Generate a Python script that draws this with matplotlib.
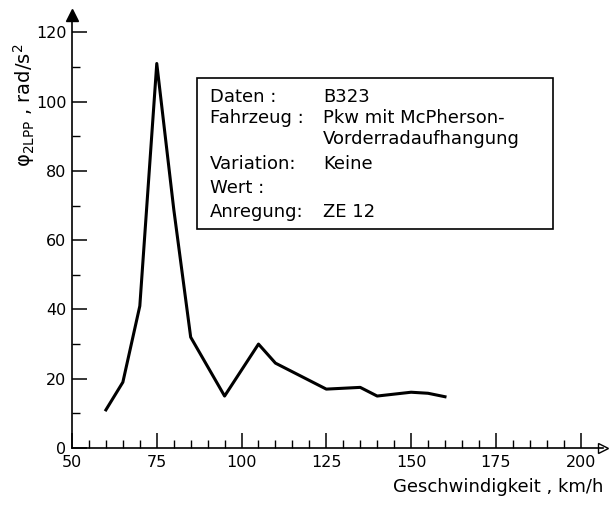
import matplotlib
matplotlib.use('Agg')
import matplotlib.pyplot as plt
from matplotlib.patches import Rectangle

speed = [60, 65, 70, 75, 80, 85, 95, 105, 110, 115, 125, 135, 140, 150, 155, 160]
accel = [11, 19, 41, 111, 69, 32, 15, 30, 24.5, 22, 17, 17.5, 15, 16.1, 15.8, 14.8]

x_major = [50, 75, 100, 125, 150, 175, 200]
y_major = [0, 20, 40, 60, 80, 100, 120]

info_labels = ['Daten :', 'Fahrzeug :', '', 'Variation:', 'Wert :', 'Anregung:']
info_values = ['B323', 'Pkw mit McPherson-', 'Vorderradaufhangung', 'Keine', '', 'ZE 12']

W, H = 615, 505
plt.rcParams['font.family'] = ['DejaVu Sans']
plt.rcParams['mathtext.fontset'] = 'dejavusans'


def fx(px):
    return px / W


def fy(py):
    return 1 - py / H


fig = plt.figure(figsize=(W / 100, H / 100), dpi=100)
ax = fig.add_axes([fx(72), fy(448), (603 - 72) / W, (448 - 15) / H])

ax.plot(speed, accel, color='black', lw=2.2, solid_joinstyle='round')

ax.set_xlim(50, 206.6)
ax.set_ylim(0, 125)

ax.set_xticks(x_major)
ax.set_xticks(list(range(55, 200, 5)), minor=True)
ax.set_yticks(y_major)
ax.set_yticks(list(range(10, 120, 20)), minor=True)

ax.tick_params(direction='in', length=11, width=1.1, labelsize=11.5, pad=5)
ax.tick_params(which='minor', direction='in', length=6, width=1.0)
ax.tick_params(axis='y', pad=4)

for side in ['top', 'right']:
    ax.spines[side].set_visible(False)
for side in ['left', 'bottom']:
    ax.spines[side].set_linewidth(1.2)

# Pfeilspitzen an den Achsen
ax.plot(1, 0, marker='>', ms=7, mfc='white', mec='black', mew=1,
        transform=ax.transAxes, clip_on=False)
ax.plot(0, 1, marker='^', ms=8, color='black',
        transform=ax.transAxes, clip_on=False)

ax.set_xlabel('Geschwindigkeit , km/h', fontsize=13, loc='right', labelpad=6)
fig.text(fx(24), fy(105), r'φ$_{\mathrm{2LPP}}$ , rad/s$^2$',
         rotation=90, fontsize=14, ha='center', va='center')

# Infobox
fig.patches.append(Rectangle((fx(197), fy(229)), (553 - 197) / W, (229 - 78) / H,
                             transform=fig.transFigure, fill=False,
                             edgecolor='black', lw=1.2))
rows = [97, 118, 139, 164, 188, 212]
for r, lab, val in zip(rows, info_labels, info_values):
    fig.text(fx(210), fy(r), lab, fontsize=13, va='center', ha='left')
    fig.text(fx(323), fy(r), val, fontsize=13, va='center', ha='left')

fig.savefig('out.png', dpi=100)
